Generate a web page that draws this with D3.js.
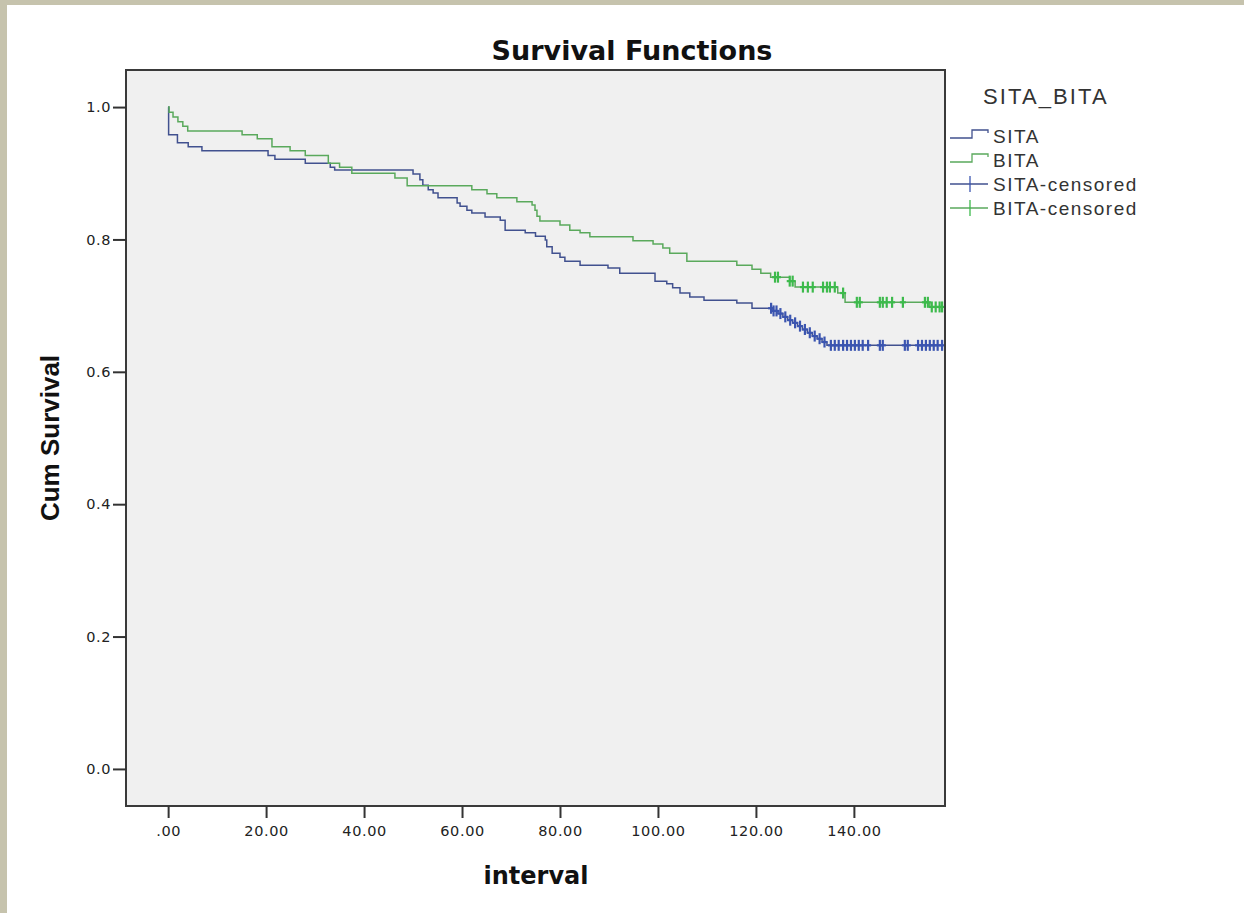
<!DOCTYPE html>
<html>
<head>
<meta charset="utf-8">
<script src="https://cdn.jsdelivr.net/npm/d3@7"></script>
<style>
  body { margin: 0; background: #fff; }
  svg { display: block; }
</style>
</head>
<body>
<div id="container"></div>
<script>
// Kaplan-Meier step data (time, cumulative survival)
const sitaTimes = [0, 0.1, 1.9, 4.1, 6.9, 20.4, 21.8, 28, 33.1, 34, 50, 51.4, 52, 53.1, 54.1, 55.1, 59, 59.6, 61, 62, 64.7, 67.8, 68.8, 72.9, 75, 77, 77.3, 78.4, 80, 81, 84.1, 89.8, 92.2, 99.4, 101.8, 103, 104.5, 106.5, 109.4, 116.1, 119.2, 123.5, 124.5, 125.5, 126.5, 127.5, 128.5, 129.5, 130.5, 131.5, 132.5, 133.5, 134.5];
const sitaSurv = [1.0, 0.958, 0.946, 0.940, 0.934, 0.927, 0.921, 0.915, 0.909, 0.905, 0.899, 0.890, 0.882, 0.875, 0.870, 0.863, 0.855, 0.850, 0.844, 0.840, 0.834, 0.829, 0.814, 0.810, 0.805, 0.799, 0.789, 0.779, 0.773, 0.767, 0.761, 0.757, 0.749, 0.737, 0.733, 0.727, 0.719, 0.713, 0.708, 0.704, 0.696, 0.692, 0.688, 0.683, 0.678, 0.674, 0.669, 0.664, 0.659, 0.654, 0.650, 0.645, 0.640];
const sitaCensored = [123.1, 123.6, 124.2, 125, 126, 127, 128, 129, 130, 131, 132, 133, 134, 135.3, 136.1, 136.9, 137.8, 138.6, 139.4, 140.2, 141, 141.8, 142.9, 145.3, 145.9, 150.4, 151, 153.1, 153.9, 154.7, 155.5, 156.3, 157.1, 158];

const bitaTimes = [0, 0.2, 1, 2, 3, 4, 15.1, 18.2, 21.2, 24.9, 28, 32.7, 35, 37.5, 46.3, 48.8, 62, 65.1, 67.1, 71.2, 74.3, 74.9, 75.3, 75.9, 80, 82, 84.1, 86.1, 94.9, 99, 101, 102.4, 105.9, 116.1, 119.2, 121, 123, 126.9, 128, 136.7, 138.2, 155.5];
const bitaSurv = [1.0, 0.992, 0.985, 0.978, 0.971, 0.964, 0.958, 0.952, 0.940, 0.934, 0.927, 0.915, 0.909, 0.900, 0.893, 0.881, 0.875, 0.869, 0.863, 0.857, 0.852, 0.844, 0.835, 0.828, 0.822, 0.814, 0.810, 0.804, 0.798, 0.793, 0.787, 0.779, 0.767, 0.761, 0.755, 0.749, 0.743, 0.737, 0.728, 0.719, 0.705, 0.698];
const bitaCensored = [123.9, 124.5, 126.9, 127.5, 129.6, 130.6, 131.6, 133.7, 134.5, 135.1, 136.1, 137.8, 140.6, 141.2, 145.3, 145.9, 146.7, 147.8, 150, 154.5, 155.1, 155.9, 156.7, 157.5, 158];

const xTicks = [0, 20, 40, 60, 80, 100, 120, 140];
const yTicks = [0, 0.2, 0.4, 0.6, 0.8, 1.0];
const legendLabels = ["SITA", "BITA", "SITA-censored", "BITA-censored"];
const lastTime = 158.3;

const width = 1244;
const height = 913;
const frame = { left: 126, top: 70, right: 945, bottom: 806 };

const svg = d3.select("#container").append("svg")
    .attr("width", width)
    .attr("height", height);

// beige slide border on top and left
svg.append("rect").attr("x", 0).attr("y", 0).attr("width", width).attr("height", 5).attr("fill", "#c6c3ad");
svg.append("rect").attr("x", 0).attr("y", 0).attr("width", 7).attr("height", height).attr("fill", "#c6c3ad");

const x = d3.scaleLinear()
    .domain([-8.6, 158.6])
    .range([frame.left, frame.right]);

const y = d3.scaleLinear()
    .domain([-0.056, 1.056])
    .range([frame.bottom, frame.top]);

svg.append("rect")
    .attr("x", frame.left)
    .attr("y", frame.top)
    .attr("width", frame.right - frame.left)
    .attr("height", frame.bottom - frame.top)
    .attr("fill", "#f0f0f0");

const series = [
    { name: "SITA", times: sitaTimes, surv: sitaSurv, cens: sitaCensored, line: "#41518f", mark: "#3b55b0" },
    { name: "BITA", times: bitaTimes, surv: bitaSurv, cens: bitaCensored, line: "#5aa95c", mark: "#3dba4c" }
];

const line = d3.line()
    .x(d => x(d[0]))
    .y(d => y(d[1]))
    .curve(d3.curveStepAfter);

series.forEach(s => {
    const pts = s.times.map((t, i) => [t, s.surv[i]]);
    pts.unshift([0, 1.0]);
    pts.push([lastTime, s.surv[s.surv.length - 1]]);
    svg.append("path")
        .datum(pts)
        .attr("fill", "none")
        .attr("stroke", s.line)
        .attr("stroke-width", 1.5)
        .attr("d", line);
});

// censored marks sit on the step value at that time
series.forEach(s => {
    const valueAt = t => s.surv[Math.max(0, d3.bisectRight(s.times, t) - 1)];
    const g = svg.append("g").attr("stroke", s.mark).attr("stroke-width", 2.2);
    s.cens.forEach(t => {
        const cx = x(t), cy = y(valueAt(t));
        g.append("line").attr("x1", cx).attr("x2", cx).attr("y1", cy - 5.5).attr("y2", cy + 5.5);
        g.append("line").attr("x1", cx - 3).attr("x2", cx + 3).attr("y1", cy).attr("y2", cy);
    });
});

// frame
svg.append("rect")
    .attr("x", frame.left)
    .attr("y", frame.top)
    .attr("width", frame.right - frame.left)
    .attr("height", frame.bottom - frame.top)
    .attr("fill", "none")
    .attr("stroke", "#3a3a3a")
    .attr("stroke-width", 2);

const yAxis = svg.append("g")
    .attr("transform", `translate(${frame.left},0)`)
    .call(d3.axisLeft(y).tickValues(yTicks).tickFormat(d3.format(".1f")).tickSize(13).tickPadding(2))
    .call(g => g.select(".domain").remove());

const xAxis = svg.append("g")
    .attr("transform", `translate(0,${frame.bottom})`)
    .call(d3.axisBottom(x).tickValues(xTicks)
        .tickFormat(d => d === 0 ? ".00" : d.toFixed(2)).tickSize(12).tickPadding(8))
    .call(g => g.select(".domain").remove());

[yAxis, xAxis].forEach(g => {
    g.selectAll(".tick line").attr("stroke", "#333").attr("stroke-width", 2);
    g.selectAll(".tick text")
        .attr("fill", "#222")
        .style("font-family", "DejaVu Sans")
        .style("font-size", "14.5px")
        .style("letter-spacing", "0.6px");
});

// Chart title
svg.append("text")
    .attr("x", 632)
    .attr("y", 60)
    .attr("text-anchor", "middle")
    .style("font-family", "DejaVu Sans")
    .style("font-weight", "bold")
    .style("font-size", "27px")
    .attr("fill", "#111")
    .text("Survival Functions");

// x axis label
svg.append("text")
    .attr("x", 536)
    .attr("y", 884)
    .attr("text-anchor", "middle")
    .style("font-family", "DejaVu Sans")
    .style("font-weight", "bold")
    .style("font-size", "24px")
    .attr("fill", "#111")
    .text("interval");

// y axis label
svg.append("text")
    .attr("transform", "translate(59,438) rotate(-90)")
    .attr("text-anchor", "middle")
    .style("font-family", "Liberation Sans")
    .style("font-weight", "bold")
    .style("font-size", "26px")
    .attr("fill", "#111")
    .text("Cum Survival");

// Legend
const legend = svg.append("g");
legend.append("text")
    .attr("x", 983)
    .attr("y", 104)
    .style("font-family", "Liberation Sans")
    .style("font-size", "22px")
    .style("letter-spacing", "2.1px")
    .attr("fill", "#333")
    .text("SITA_BITA");

const legendY = d3.scalePoint().domain(legendLabels).range([136, 208]);
const legendColor = { SITA: series[0], BITA: series[1] };

legendLabels.forEach(lbl => {
    const cy = legendY(lbl);
    const s = legendColor[lbl.split("-")[0]];
    if (lbl.includes("censored")) {
        legend.append("line").attr("x1", 950).attr("x2", 988).attr("y1", cy).attr("y2", cy)
            .attr("stroke", s.line).attr("stroke-width", 1.3);
        legend.append("line").attr("x1", 970).attr("x2", 970).attr("y1", cy - 8).attr("y2", cy + 8)
            .attr("stroke", s.mark).attr("stroke-width", 1.3);
    } else {
        legend.append("path")
            .attr("d", `M950,${cy + 2}H972V${cy - 6}H988V${cy - 3}`)
            .attr("fill", "none")
            .attr("stroke", s.line)
            .attr("stroke-width", 1.3);
    }
    legend.append("text")
        .attr("x", 993)
        .attr("y", cy + 7)
        .style("font-family", "Liberation Sans")
        .style("font-size", "19px")
        .style("letter-spacing", "1.5px")
        .attr("fill", "#333")
        .text(lbl);
});
</script>
</body>
</html>
